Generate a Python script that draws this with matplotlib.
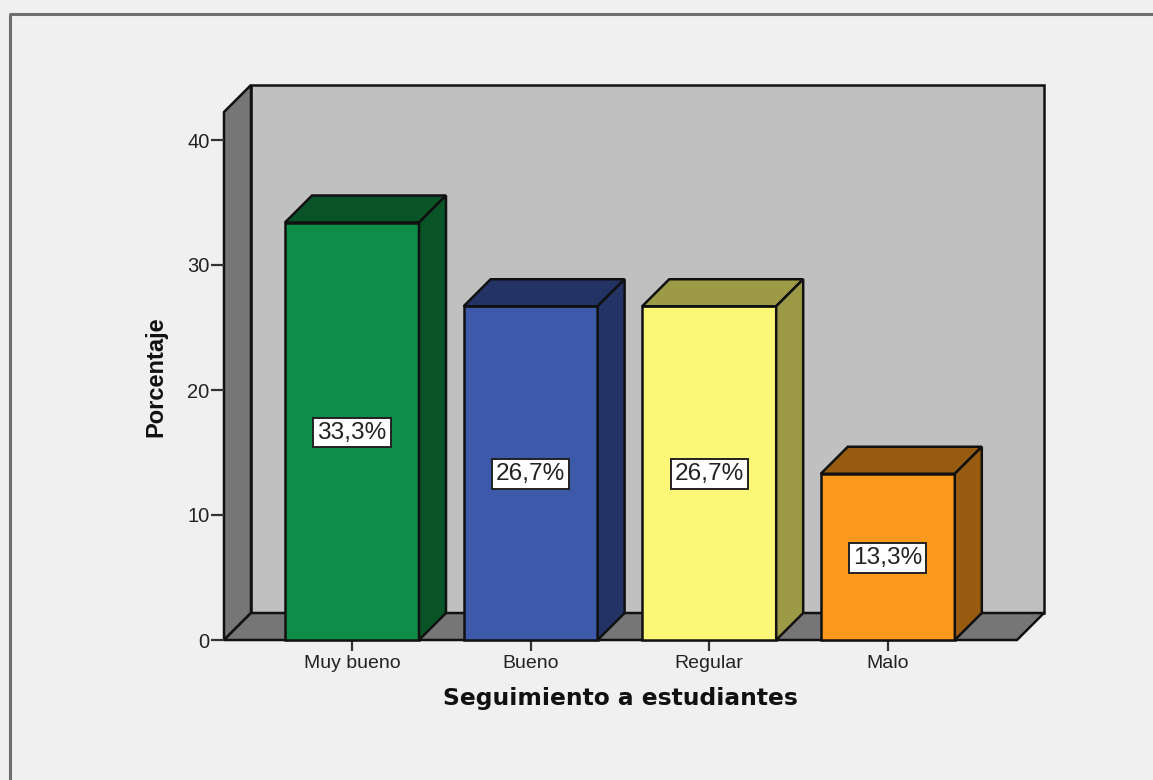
#!/usr/bin/env python

import matplotlib
matplotlib.use("Agg")
import matplotlib.pyplot as plt
from matplotlib.patches import Polygon

categories = ["Muy bueno", "Bueno", "Regular", "Malo"]
values = [33.4, 26.7, 26.7, 13.3]
labels = ["33,3%", "26,7%", "26,7%", "13,3%"]
yticks = [0, 10, 20, 30, 40]

front_colors = ["#0f8c47", "#3d59aa", "#fcf776", "#fb991c"]
top_colors = ["#085427", "#243366", "#9c9a47", "#975c10"]
wall_color = "#c0c0c0"
side_color = "#767676"
edge = "#111111"

W, H = 1153, 780
plt.rcParams["font.family"] = ["Liberation Sans", "DejaVu Sans"]

fig = plt.figure(figsize=(W / 100, H / 100), dpi=100, facecolor="#f0f0f0")

# outer frame, only top and left are visible
frame = fig.add_axes([0, 0, 1, 1], facecolor="none")
frame.set_xlim(0, W)
frame.set_ylim(H, 0)
frame.axis("off")
frame.plot([10, 10], [H, 14], color="#6e6e6e", lw=2.2, solid_capstyle="butt")
frame.plot([9, W], [14, 14], color="#6e6e6e", lw=2.2, solid_capstyle="butt")

ax = fig.add_axes([224 / W, (H - 640) / H, 793 / W, 528 / H], facecolor="none")
spacing = 178.6
ax.set_xlim((224 - 352) / spacing, (1017 - 352) / spacing)
ax.set_ylim(0, 528 / 12.5)

bar_w = 134 / spacing
dx = 27 / spacing
dy = 27 / 12.5
x0, x1 = ax.get_xlim()
y1 = ax.get_ylim()[1]


def poly(pts, color, z):
    ax.add_patch(Polygon(pts, closed=True, facecolor=color, edgecolor=edge,
                         lw=1.8, joinstyle="miter", clip_on=False, zorder=z))


# back wall, left wall and floor
poly([(x0 + dx, dy), (x1 + dx, dy), (x1 + dx, y1 + dy), (x0 + dx, y1 + dy)], wall_color, 1)
poly([(x0, 0), (x0 + dx, dy), (x0 + dx, y1 + dy), (x0, y1)], side_color, 1)
poly([(x0, 0), (x1, 0), (x1 + dx, dy), (x0 + dx, dy)], side_color, 1)

for i, v in enumerate(values):
    l = i - bar_w / 2
    r = i + bar_w / 2
    poly([(l, 0), (r, 0), (r, v), (l, v)], front_colors[i], 3)
    poly([(l, v), (r, v), (r + dx, v + dy), (l + dx, v + dy)], top_colors[i], 3)
    poly([(r, 0), (r + dx, dy), (r + dx, v + dy), (r, v)], top_colors[i], 3)
    ax.text(i, v / 2 - 0.1, labels[i], ha="center", va="center", fontsize=17.6, color="#222222",
            zorder=5, bbox=dict(boxstyle="square,pad=0.16", facecolor="white",
                                edgecolor="#222222", lw=1.4))

for s in ax.spines.values():
    s.set_visible(False)
ax.set_xticks(range(len(categories)))
ax.set_xticklabels(categories, fontsize=14, color="#222222")
ax.set_yticks(yticks)
ax.set_yticklabels([str(t) for t in yticks], fontsize=14.5, color="#222222")
ax.tick_params(axis="x", length=8, width=1.6, color="#333333", pad=3)
ax.tick_params(axis="y", length=9.5, width=1.6, color="#333333", pad=1)

fig.text(620 / W, 1 - 699 / H, "Seguimiento a estudiantes", ha="center", va="center",
         fontsize=16.8, fontweight="bold", color="#111111", family=["DejaVu Sans"])
fig.text(156 / W, 1 - 377 / H, "Porcentaje", ha="center", va="center", rotation=90,
         fontsize=17, fontweight="bold", color="#111111")

fig.savefig("out.png", dpi=100, facecolor=fig.get_facecolor())
